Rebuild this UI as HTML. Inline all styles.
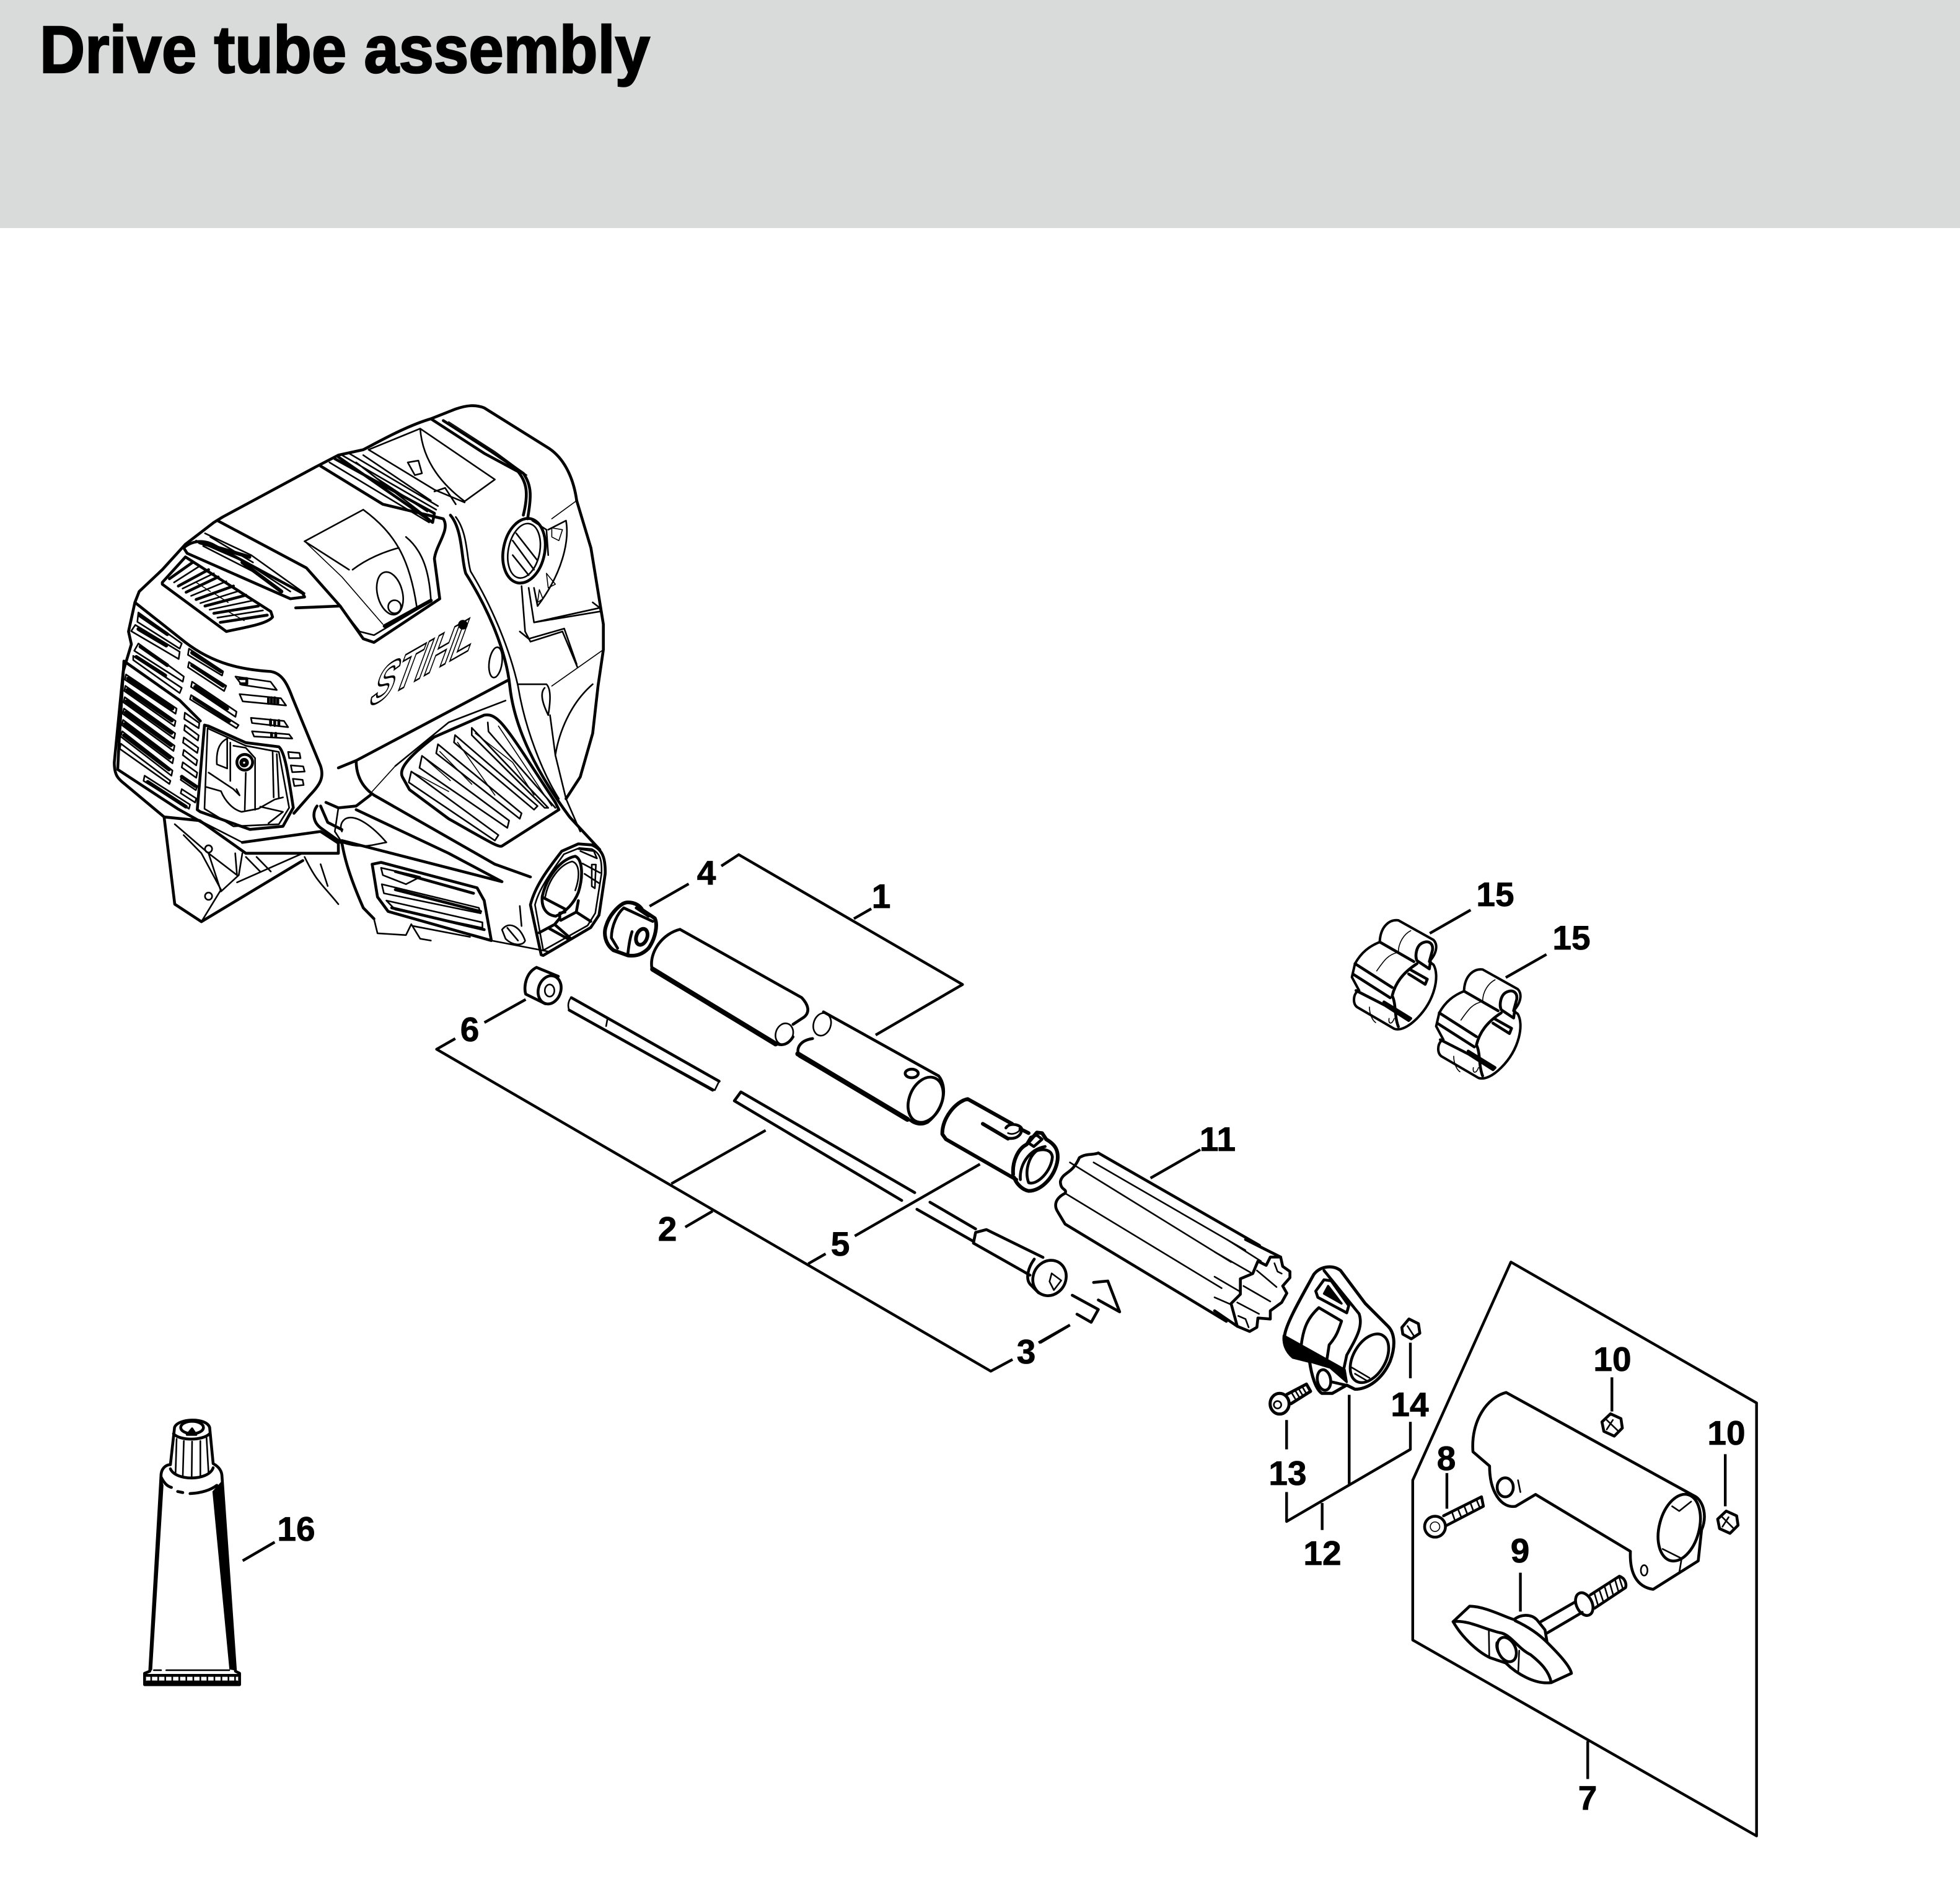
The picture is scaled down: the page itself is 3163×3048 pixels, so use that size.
<!DOCTYPE html>
<html><head><meta charset="utf-8"><title>Drive tube assembly</title>
<style>
html,body{margin:0;padding:0;background:#fff}
svg{display:block}
path,ellipse,circle{fill:none;stroke:#000;stroke-width:3.5;stroke-linejoin:round;stroke-linecap:round;vector-effect:non-scaling-stroke}
.t{stroke-width:1.6}.n{stroke-width:2.6}.b{stroke-width:4.6}.x{stroke-width:6}.w{fill:#fff}.k{fill:#000}
.l{stroke-width:4.4;stroke-linecap:butt}
text{font-family:"Liberation Sans",sans-serif;font-weight:700;fill:#000}
.num{font-size:55px;text-anchor:middle;stroke:#000;stroke-width:.8px}
</style></head><body>
<svg xmlns="http://www.w3.org/2000/svg" width="3163" height="3048" viewBox="0 0 3163 3048">
<rect x="0" y="0" width="3163" height="368" fill="#d9dbda"/>
<text x="64" y="117" font-size="108" textLength="985" lengthAdjust="spacingAndGlyphs" style="stroke:#000;stroke-width:2.5px">Drive tube assembly</text>

<!-- ENGINE -->
<g transform="translate(150 620) scale(.574 .5867)">
<path class="b" d="M1360,320C1350,250 1320,200 1280,175L1100,65C1075,55 1050,58 1020,68L950,95C880,115 800,160 760,180L690,195L625,228L365,365L340,380L260,440L195,510L130,570L118,600L100,680L108,715L85,790L60,1040C60,1075 70,1085 90,1100L200,1190L230,1430L305,1478L590,1310"/>
<path class="b" d="M1360,320L1400,450L1435,660L1435,730L1420,830L1405,960L1370,1080L1330,1140"/>
<path class="n" d="M775,180L920,122C925,190 960,260 1045,322L1130,262L920,122M775,180L960,290L1045,325M885,215L915,210L925,245L905,250ZM960,295L990,285L1020,330"/>
<path class="b" d="M950,95L1100,190L1195,240C1220,270 1225,300 1210,360M985,100L1120,185L1210,245C1235,280 1232,310 1222,370"/>
<path class="t" d="M1000,103L1130,185L1220,250"/>
<ellipse class="b" cx="1212" cy="458" rx="58" ry="90" transform="rotate(12 1212 458)"/>
<ellipse class="n" cx="1212" cy="458" rx="44" ry="76" transform="rotate(12 1212 458)"/>
<path class="n" d="M1180,430L1240,510M1190,410L1250,485M1180,470L1225,525M1235,375L1275,400L1280,470"/>
<path class="n" d="M1280,400L1330,375C1340,430 1320,520 1250,610L1240,560M1205,555L1215,680L1230,708L1320,680L1362,778M1225,560L1240,655L1425,615L1405,600M1240,655L1425,625M1200,680L1225,700L1325,672L1360,770M1425,615L1435,660"/>
<path class="t" d="M1290,395L1320,400L1310,430L1290,420ZM1275,520L1300,550L1280,560ZM1255,565L1265,590L1250,600ZM1290,370L1360,320M1290,830L1435,730"/>
<path class="n" d="M1195,825L1275,825C1290,840 1285,880 1280,910C1265,880 1255,850 1270,835"/>
<path class="n" d="M1285,910L1300,1020L1330,1140L1370,1230M1300,1020C1310,960 1340,880 1405,825"/>
<path class="b" d="M1005,360C1040,400 1035,480 1048,520C1100,600 1160,720 1172,830C1185,950 1250,1070 1340,1190L1425,1280"/>
<path class="n" d="M1020,365C1055,410 1050,480 1062,515C1115,600 1170,720 1195,830C1215,950 1265,1070 1310,1140"/>
<ellipse class="n" cx="1132" cy="765" rx="18" ry="42" transform="rotate(8 1132 765)"/>
<path class="b" d="M690,1055L740,1035L1165,815M740,1035C740,1080 760,1110 790,1130L1130,1320L1230,1355"/>
<path class="t" d="M785,1120L850,1050"/>
<path class="n" d="M850,1050L1000,930L1160,870"/>
<!-- side vent -->
<path class="b" d="M870,1080C860,1060 880,1030 960,970L1100,910C1130,905 1150,925 1220,1030L1300,1150L1310,1170L1150,1270C1140,1275 1100,1250 1000,1195L890,1115Z"/>
<path class="n" d="M895,1065L888,1095L1130,1255L1140,1240ZM925,1022L918,1055L1165,1220L1170,1200ZM970,990L965,1015L1200,1195L1205,1180ZM1018,965L1015,985L1240,1170L1250,1160ZM1065,945L1065,965L1270,1165L1280,1165ZM1110,930L1112,955L1300,1165"/>
<path class="t" d="M895,1065L1000,1120M925,1022L1005,1090M975,1010L1065,1100M1025,985L1130,1130M1075,960L1180,1040L1240,1130M1140,940L1290,1160"/>
<!-- top mid shroud -->
<path class="b" d="M640,225L815,330L985,370C1005,400 965,440 960,480L975,590L790,710L760,700L695,610L570,615"/>
<path class="n" d="M945,600L790,690L750,680L690,605M880,420C930,460 945,520 950,590M595,432L760,345M760,345C850,410 890,480 910,610M730,510C770,480 820,460 860,450"/>
<path class="n" d="M595,432L720,510"/>
<path class="t" d="M595,432L700,530L815,660"/>
<ellipse class="n" cx="835" cy="575" rx="35" ry="60" transform="rotate(-15 835 575)"/>
<circle class="n" cx="848" cy="612" r="18"/>
<path class="x" d="M820,665L950,595"/>
<path class="b" d="M680,205L960,355L955,380L690,200"/>
<path class="n" d="M700,195L965,345M720,190L970,335M760,195L950,320M665,215L945,380M740,215L945,370M800,260L940,350"/>
<!-- top left ribs -->
<path class="b" d="M255,450C285,425 320,430 345,445L590,575L595,585L555,590L265,465ZM350,375L600,505L695,610"/>
<path class="n" d="M315,410L445,470L595,575M290,430L430,490L555,570M310,445L450,515M330,420L450,490"/>
<path class="x" d="M300,435L440,475M420,490L530,570"/>
<!-- top grille -->
<path class="b" d="M195,545L260,475L500,625L505,640C490,660 420,670 375,680L195,550Z"/>
<path class="b" d="M215,535L280,490M240,555L325,510M262,572L352,530M290,592L395,555M315,610L430,580M340,630L465,610M358,655L490,635"/>
<path class="n" d="M228,545L300,500M252,562L340,520M276,582L375,542M302,602L412,568M328,620L448,595M350,642L478,622"/>
<path class="t" d="M290,545L330,570M340,575L380,600M380,625L425,650"/>
<path class="b" d="M420,1260L640,1230L690,1262L690,1290L430,1290L300,1200L200,1190"/>
<path class="b" d="M118,600L260,710C340,770 420,785 500,790C530,795 545,820 560,860L640,1050C650,1080 640,1100 610,1130L565,1180"/>
<path class="b" d="M630,1160C615,1180 620,1205 640,1220L700,1262C705,1290 715,1340 760,1440L790,1470"/>
<path class="b" d="M655,1150L690,1165L740,1160L780,1130M640,1160L660,1205L700,1225"/>
<path class="n" d="M690,1165L680,1230L700,1260C760,1280 790,1265 825,1260C790,1220 740,1180 710,1195C695,1205 695,1220 700,1230"/>
<path class="n" d="M300,1200L420,1260M230,1210L325,1290L405,1350L400,1290M255,1240L305,1290L360,1390L305,1478M325,1290L360,1395L410,1350M410,1350L420,1290M460,1300L500,1340M430,1300L470,1340M405,1370L590,1290"/>
<path class="n" d="M595,1300C630,1370 640,1370 690,1430M640,1320L660,1380"/>
<circle class="n" cx="325" cy="1278" r="10"/><circle class="n" cx="325" cy="1408" r="10"/>
<path class="b" d="M700,1255L1150,1368L1000,1290L740,1170"/>
<path class="n" d="M1130,1320L1230,1355"/>
<!-- lower vent -->
<path class="b" d="M785,1320L800,1410L830,1450L1120,1530L1100,1420L1080,1385L810,1315Z"/>
<path class="n" d="M810,1330L900,1350L920,1355L880,1375L815,1350ZM812,1375L1085,1440L1090,1455L818,1400ZM825,1420L1095,1480L1095,1495L850,1445Z"/>
<path class="b" d="M850,1340L1070,1400M850,1390L1090,1450M840,1440L1100,1500"/>
<path class="n" d="M790,1470L800,1510L880,1515L895,1485L920,1525L950,1530M900,1490L1060,1520M1120,1530L1280,1560"/>
<path class="n" d="M1200,1435L1205,1490M1150,1500C1170,1475 1200,1490 1215,1530C1210,1545 1180,1545 1160,1525ZM1165,1495L1195,1530"/>
</g>

<!-- front grille & window (3x crop at 190,940) -->
<g transform="translate(190 940) scale(.3333)">
<path class="n" d="M100,145L310,295L300,320L95,190ZM85,205L300,335L295,370L65,235ZM345,320L510,430L505,450L340,350ZM345,385L525,500L515,525L340,410ZM100,295L320,455L315,480L80,330ZM75,355L310,510L300,535L75,375ZM360,480L575,625L570,650L355,505ZM355,545L585,690L575,705L350,565Z"/>
<path class="x" d="M108,160L240,250M100,225L235,305M110,310L240,400M90,360L230,450M375,505L530,610M370,560L540,670M360,340L500,430M360,400L510,500"/>
<path class="n" d="M570,455L740,480L770,520L600,495ZM590,540L790,560L815,595L605,575ZM645,655L805,670L825,700L650,680ZM650,720L830,735L845,755L660,745Z"/>
<path class="b" d="M590,465L625,465L625,490L595,490M730,558V585M745,558V585M760,558V585M775,562V585M740,665V690M760,668V692M780,668V692M745,730V745M765,730V745"/>
<path class="b" d="M30,380L300,570L400,670M30,380L5,800L0,900"/>
<!-- stripes -->
<path class="n" d="M40,445L285,610L280,635L35,470ZM37,500L280,670L275,695L32,525ZM34,555L278,730L273,755L28,580ZM30,610L275,790L270,815L24,635ZM26,665L270,850L265,875L20,690ZM22,720L265,910L260,935L14,745ZM15,780L255,960L250,975L10,805Z"/>
<path class="x" d="M50,465L265,610M46,520L262,668M42,575L260,728M38,630L258,788M34,685L252,848M30,740L248,905"/>
<path class="n" d="M325,630L395,680L392,705L322,660ZM325,690L392,740L388,765L322,715ZM320,750L390,800L385,825L316,775ZM320,810L385,860L380,885L315,835ZM315,870L385,920L380,945L310,895ZM310,935L385,985L378,1005L305,955ZM310,1000L380,1045L375,1065L305,1020ZM130,935L350,1075L345,1095L125,960Z"/>
<path class="x" d="M310,940L375,985M145,965L330,1085"/>
<path class="b" d="M0,905L290,1095L460,1190"/>
<!-- window -->
<path class="b" d="M420,690L440,695L620,775L780,795C810,820 825,930 850,1090L800,1180L640,1195L400,1110L385,1100Z"/>
<path class="n" d="M435,705L420,1095L560,1180L780,1170L830,1090L780,820L620,790L445,710Z"/>
<path class="n" d="M480,880C475,800 500,770 530,755L530,900ZM545,775L545,960M560,790L620,800L665,850L665,1100M620,920L615,1100M440,920L560,1000L590,1030L575,1000M430,990L500,1010C520,1060 560,1100 600,1110L680,1095L760,1050L800,1040M750,820L755,1040M770,830L780,1040M690,1085L800,1110L730,1165"/>
<circle class="b" cx="615" cy="870" r="38"/><circle class="x" cx="612" cy="872" r="14"/>
<path class="n" d="M825,820L880,825L885,850L830,850ZM838,885L898,890L905,915L845,918ZM848,950L895,955L900,980L855,985Z"/>
</g>

<!-- muzzle + nut 4 (3x crop at 840,1350) -->
<g transform="translate(840 1350) scale(.3333)">
<path class="b" d="M100,572L48,330C70,240 130,160 200,70L280,35L345,40C395,60 412,100 410,180L380,380L340,440L110,575Z"/>
<path class="n" d="M110,550L70,330C90,250 150,170 210,85L285,55L345,60C385,80 395,110 392,180L362,370L325,430L120,545Z"/>
<path class="b" d="M105,290C125,200 190,110 265,95C300,110 305,190 280,270C260,320 220,365 170,385C130,380 100,350 105,290Z"/>
<path class="n" d="M120,290C135,210 190,135 250,120C285,130 290,190 265,260"/>
<path class="b" d="M110,295L215,350L215,365L190,370L190,395L165,425M280,310L270,365L340,410M270,365L195,405M90,465L165,425L240,490M140,445L230,495"/>
<path class="n" d="M300,130L385,175M280,60L355,70L370,105L290,70M345,135L345,240L360,250L365,135ZM310,180L380,225"/>
<path class="x" d="M495,325C520,310 570,320 590,355L650,395C665,425 655,490 620,540C590,570 560,580 520,575L450,550C410,520 400,470 415,430C430,380 470,340 495,325Z"/>
<path class="b" d="M500,345C470,370 440,430 440,490L470,540M500,345L640,410M540,460C530,490 525,520 520,565M560,345L620,385"/>
<ellipse class="x" cx="587" cy="485" rx="26" ry="40" transform="rotate(20 587 485)"/>
</g>

<!-- LEADERS + DRIVE TUBE PARTS -->
<g transform="translate(680 1340) scale(.7015 .574)">
<path class="l" d="M690,100L730,68L1245,433L1045,575M995,248L1035,220M525,213L615,150M145,540L240,475M78,585L35,615L1310,1520L1360,1487M575,993L792,843M607,1115L670,1070M890,1218L930,1190M997,1140L1285,938M1420,1440L1492,1390"/>
<path class="b" d="M595,278L875,470C890,490 895,510 880,525L855,545M595,278C555,290 525,340 530,385L810,595C830,610 845,600 855,580"/>
<ellipse class="n" cx="835" cy="572" rx="20" ry="30" transform="rotate(10 835 572)"/>
<path d="M532,390L815,600" style="stroke-width:8"/>
<path class="b" d="M925,510L1190,690C1210,720 1205,780 1165,820C1150,830 1135,825 1125,815L870,635C860,615 870,590 900,585"/>
<path d="M866,628L1118,812" style="stroke-width:8"/>
<ellipse class="n" cx="922" cy="545" rx="20" ry="32" transform="rotate(10 922 545)"/>
<ellipse class="b" cx="1160" cy="757" rx="38" ry="65" transform="rotate(15 1160 757)"/>
<ellipse class="b" cx="1128" cy="683" rx="15" ry="12"/>
<path class="n" d="M345,470L685,705L675,730L340,505C335,490 340,475 345,470ZM428,530L425,550"/>
<path class="b" d="M345,470L425,525L685,705M340,505L670,730"/>
<path class="b" d="M735,735L1135,1018M720,760L1105,1040M735,735L720,760M1170,1045L1275,1120M1140,1065L1270,1155"/>
<path class="b" d="M1275,1130L1300,1122L1430,1200M1270,1160L1400,1250M1275,1130L1270,1160"/>
<ellipse class="b" cx="1445" cy="1258" rx="38" ry="50" transform="rotate(10 1445 1258)"/>
<path class="b" d="M1410,1205C1395,1230 1390,1260 1400,1275L1420,1300"/>
<path class="n" d="M1450,1245L1472,1265L1455,1292L1445,1268Z"/>
<path class="b" d="M265,385C240,400 235,440 240,460L285,487M265,385L315,410"/>
<ellipse class="b" cx="295" cy="448" rx="26" ry="40" transform="rotate(10 295 448)"/>
<ellipse class="n" cx="295" cy="450" rx="11" ry="17"/>
</g>

<!-- sleeve 5 (3x crop at 1500,1740) -->
<g transform="translate(1500 1740) scale(.3333)">
<path class="x" d="M185,100C130,110 60,190 62,270L80,295L420,490M185,100L400,220M440,245L480,265"/>
<path class="x" d="M405,465C400,400 430,340 470,320L520,262L545,265L565,295C610,320 625,350 620,395C610,470 545,545 480,545C450,540 420,510 410,480"/>
<path class="b" d="M440,490C435,420 480,345 560,330M480,505C520,520 590,450 595,380C590,345 555,340 520,350C480,380 460,450 480,505"/>
<path class="b" d="M475,310L490,285L520,275L545,295L505,330Z"/>
<path class="x" d="M258,220L380,292"/>
<path class="b" d="M370,240C385,215 430,220 445,240C450,270 425,295 385,290"/>
<path class="n" d="M380,265C400,275 430,265 440,245"/>
</g>

<g transform="translate(1650 1780) scale(.7653 .7653)">
<path class="l" d="M818,505L818,580M818,672L818,730L557,882L557,820M557,668L557,730M689,615L689,803M632,843L632,900M37,505L100,468M270,158L375,98M1192,1345L1192,1425M1243,578L1243,650M1482,740L1482,850M895,780L895,855M1050,990L1050,1072"/>
<path class="l" d="M1030,335L1548,632L1548,1545L823,1132L823,795Z"/>
<path class="b" d="M150,378L180,375L205,440L160,415M105,405L160,435L145,462L115,445"/>
<path class="b" d="M160,105L500,300M120,115C105,150 85,145 80,165C80,185 95,180 90,190C70,200 65,215 75,230L90,255L430,460M120,115C135,105 150,110 160,105"/>
<path class="n" d="M150,125L470,310M90,190L420,390M100,125L440,335"/>
<!-- handle -->
<path class="b" d="M1020,610C980,620 945,670 950,735L985,765C985,820 1010,855 1040,850L1082,825L1282,945C1280,990 1295,1020 1330,1025L1425,965L1432,900C1445,870 1435,840 1420,830L1020,610Z"/>
<ellipse class="b" cx="1385" cy="895" rx="42" ry="72" transform="rotate(15 1385 895)"/>
<path class="n" d="M1370,850L1385,860L1410,840M1350,940L1390,960L1385,990M1045,795L1050,820"/>
<ellipse class="b" cx="1018" cy="810" rx="17" ry="20"/>
<ellipse class="n" cx="1311" cy="985" rx="7" ry="11"/>
<path class="b" d="M1222,672L1240,655L1262,665L1265,685L1248,702L1226,692Z"/><path class="n" d="M1232,668L1255,690M1245,668L1232,688"/>
<path class="b" d="M1466,877L1484,860L1506,870L1509,890L1492,907L1470,897Z"/><path class="n" d="M1476,873L1498,895M1489,873L1476,893"/>
<path class="b" d="M800,473L815,455L835,465L838,485L820,497L802,487Z"/><path class="n" d="M812,470L825,490"/>
<circle class="b" cx="870" cy="893" r="22"/><circle class="t" cx="870" cy="893" r="10"/>
<path class="b" d="M888,870L968,830L972,850L895,890"/>
<path class="n" d="M905,860L912,880M918,855L925,872M931,848L938,866M944,841L951,860M957,835L964,852"/>
</g>

<!-- 11 end + clamp 12 + screw 13 (3x crop at 1960,2000) -->
<g transform="translate(1960 2000) scale(.3333)">
<path class="b" d="M320,85L330,130L365,155L365,185L330,225L350,260L325,305L270,345L270,385L210,380L205,425L170,445L110,420L80,310L125,265L125,190L185,165L210,105L250,125L270,85L320,85"/>
<path class="b" d="M150,0L320,85M0,345L110,420"/>
<path class="n" d="M60,0L225,105M0,60L175,160M0,180L120,250M0,280L80,315M205,150L300,230M140,225L270,300M110,305L215,360M290,115L305,155L325,165M115,370L150,385L165,425"/>
<path class="x" d="M340,460C350,400 420,280 480,170C510,130 570,120 610,150L730,310L840,420C870,450 880,510 850,590C810,680 740,725 680,725L640,705L570,745L520,745C490,725 470,660 460,590L380,570C345,540 330,500 340,460Z" style="stroke-width:5"/>
<path class="k" d="M335,465L630,630L640,690L560,620L460,590L380,570C345,540 330,500 335,465Z"/>
<path class="b" d="M490,250L530,195L565,200L650,320L640,355L500,280Z"/>
<path class="k" d="M550,225L615,310L530,262Z"/>
<path class="b" d="M420,510C430,430 450,380 505,330L615,395C600,440 590,470 555,510L545,575"/>
<path class="b" d="M530,150L700,360C720,420 690,470 640,560L625,630"/>
<ellipse class="b" cx="750" cy="575" rx="78" ry="128" transform="rotate(30 750 575)"/>
<path class="n" d="M665,620L750,670M680,650L740,685"/>
<ellipse class="b" cx="530" cy="680" rx="32" ry="50" transform="rotate(-10 530 680)"/>
<path class="b" d="M570,690L635,705"/>
<ellipse class="x" cx="315" cy="795" rx="46" ry="50" style="stroke-width:5"/>
<circle class="n" cx="305" cy="800" r="18"/>
<path class="x" d="M350,750L445,700L465,735L370,795" style="stroke-width:5"/>
<path class="n" d="M375,745L390,770M393,735L408,760M410,727L425,752M428,718L442,742"/>
</g>

<!-- knob 9 (3x crop at 2330,2480) -->
<g transform="translate(2330 2480) scale(.3333)">
<path class="b" d="M45,410L125,335C200,335 300,390 340,400C370,375 420,370 450,400L490,450L500,510C540,550 610,620 618,660L520,705C440,715 350,660 300,610L225,585C170,560 90,490 45,410Z"/>
<path class="b" d="M45,410C120,400 200,450 280,465C330,480 360,540 420,570C470,610 510,650 520,705M345,405C420,440 470,480 500,510"/>
<path class="n" d="M218,455L220,580M365,550L360,660"/>
<ellipse class="b" cx="305" cy="545" rx="42" ry="62" transform="rotate(-25 305 545)"/>
<path class="n" d="M255,510C245,560 290,600 320,605"/>
<path class="b" d="M470,410L635,315M500,465L670,365"/>
<ellipse class="b" cx="680" cy="325" rx="38" ry="58" transform="rotate(-25 680 325)"/>
<path class="b" d="M710,280L850,190C880,200 885,230 880,245L730,345"/>
<path class="n" d="M730,275L745,325M755,262L772,312M780,245L795,295M805,228L820,280M830,210L845,262M850,198L865,245"/>
</g>

<!-- 15 clips -->
<g transform="translate(2100 1380) scale(.3333)">
<path class="l" d="M622,378L820,265M990,592L1187,480"/>
<path class="b" style="stroke-width:4" d="M380,415C385,340 430,310 470,315L640,410C660,430 660,470 620,515L640,530C670,580 650,700 560,790C520,830 480,850 450,840L270,735C250,720 250,680 270,660L280,655L245,590L260,525C290,470 330,440 380,420Z"/>
<path class="b" d="M380,420L545,515M260,525L440,640M250,575L430,690M265,655L530,790M585,425C555,440 550,490 560,510L620,550L625,515M585,425C615,410 640,425 635,460L620,515M530,555L610,600L600,625L520,575M440,680C455,620 490,570 560,525M440,680C460,720 450,780 470,830M400,710L530,790L520,800L395,720"/>
<path class="t" d="M470,470C470,420 500,380 530,365M365,560C400,510 420,480 470,470M330,735C330,770 345,800 360,810M425,790C420,820 440,820 450,790"/>
<path class="b" style="stroke-width:4" transform="translate(408 238)" d="M380,415C385,340 430,310 470,315L640,410C660,430 660,470 620,515L640,530C670,580 650,700 560,790C520,830 480,850 450,840L270,735C250,720 250,680 270,660L280,655L245,590L260,525C290,470 330,440 380,420Z"/>
<path class="b" transform="translate(408 238)" d="M380,420L545,515M260,525L440,640M250,575L430,690M265,655L530,790M585,425C555,440 550,490 560,510L620,550L625,515M585,425C615,410 640,425 635,460L620,515M530,555L610,600L600,625L520,575M440,680C455,620 490,570 560,525M440,680C460,720 450,780 470,830M400,710L530,790L520,800L395,720"/>
<path class="t" transform="translate(408 238)" d="M470,470C470,420 500,380 530,365M365,560C400,510 420,480 470,470M330,735C330,770 345,800 360,810M425,790C420,820 440,820 450,790"/>
</g>

<!-- 16 tube -->
<g transform="translate(180 2250) scale(.3333)">
<path class="l" d="M635,805L790,715"/>
<path class="b" d="M240,385C245,350 270,340 285,340L305,160C320,115 460,110 475,160L492,335C520,350 535,370 535,400L600,1340L620,1350L620,1405L160,1405L160,1350L185,1340Z"/>
<path class="k" d="M490,470L535,420L600,1335L572,1330Z" style="stroke-width:1"/>
<path class="k" d="M238,400L250,440L195,1335L182,1335Z" style="stroke-width:1"/>
<path class="b" d="M285,360C310,420 470,420 492,355M300,190C330,225 440,225 475,190M240,400C255,430 270,445 290,450M320,470L345,475M380,480C420,478 470,470 510,440"/>
<path class="n" d="M315,215L310,380M350,225L345,395M390,228L388,405M430,225L430,400M460,210L470,385"/>
<ellipse class="b" cx="390" cy="160" rx="55" ry="30"/>
<path class="k" d="M390,165L365,195L410,195Z"/>
<path class="n" d="M205,1335L240,1335M265,1335L570,1335"/>
<path class="b" d="M170,1360L610,1360M172,1392L608,1392"/>
<path class="n" d="M192,1365V1390M226,1365V1390M260,1365V1390M294,1365V1390M328,1365V1390M362,1365V1390M396,1365V1390M430,1365V1390M464,1365V1390M498,1365V1390M532,1365V1390M566,1365V1390M598,1365V1390"/>
</g>

<!-- STIHL logo lettering -->
<text x="0" y="0" font-size="64" transform="translate(592 1143) rotate(-29.7) skewX(-50)" style="fill:#fff;stroke:#000;stroke-width:2.4px" textLength="190" lengthAdjust="spacingAndGlyphs">STIHL</text>
<circle cx="747" cy="1008" r="6" class="k"/>

<!-- Labels -->
<text class="num" x="1422" y="1465">1</text>
<text class="num" x="1140" y="1427">4</text>
<text class="num" x="758" y="1680">6</text>
<text class="num" x="1077" y="2002">2</text>
<text class="num" x="1356" y="2026">5</text>
<text class="num" x="1656" y="2200">3</text>
<text class="num" x="1965" y="1857">11</text>
<text class="num" x="2413" y="1462">15</text>
<text class="num" x="2536" y="1532">15</text>
<text class="num" x="478" y="2486">16</text>
<text class="num" x="2602" y="2212">10</text>
<text class="num" x="2786" y="2331">10</text>
<text class="num" x="2334" y="2372">8</text>
<text class="num" x="2453" y="2521">9</text>
<text class="num" x="2275" y="2285">14</text>
<text class="num" x="2078" y="2396">13</text>
<text class="num" x="2134" y="2525">12</text>
<text class="num" x="2562" y="2920">7</text>
</svg>
</body></html>
